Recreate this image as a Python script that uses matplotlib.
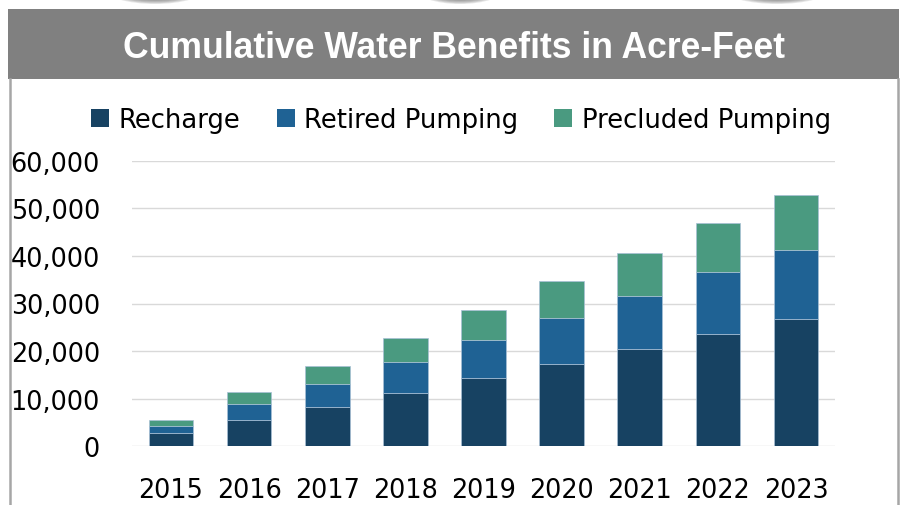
import matplotlib.pyplot as plt
import numpy as np
from matplotlib.patches import Ellipse, Patch, Rectangle
from matplotlib.ticker import FuncFormatter

years = ['2015', '2016', '2017', '2018', '2019', '2020', '2021', '2022', '2023']
# cumulative acre-feet
recharge = np.array([2730, 5590, 8320, 11200, 14290, 17230, 20380, 23530, 26680])
retired = np.array([1600, 3230, 4770, 6570, 8040, 9720, 11260, 13090, 14560])
precluded = np.array([1190, 2580, 3780, 4980, 6300, 7780, 8970, 10290, 11550])

title = 'Cumulative Water Benefits in Acre-Feet'
series_names = ['Recharge', 'Retired Pumping', 'Precluded Pumping']
colors = ['#174262', '#1f6294', '#4a9a80']

W, H = 903, 506
fig = plt.figure(figsize=(W / 100, H / 100), dpi=100)
fig.patch.set_facecolor('white')

# background layer in pixel coords (banner, frame, shadows at top)
bg = fig.add_axes([0, 0, 1, 1])
bg.set_xlim(0, W)
bg.set_ylim(H, 0)
bg.axis('off')
for cx, w in [(155, 100), (460, 88), (777, 106)]:
    for k in range(10):
        bg.add_patch(Ellipse((cx, -10), w * (1 - k * 0.05), 30 * (1 - k * 0.05),
                             color='#6e6e6e', alpha=0.16, lw=0))
bg.add_patch(Rectangle((8, 10), 891, 70, color='#808080', lw=0))
bg.plot([10, 10], [80, H], color='#a6a6a6', lw=1.8)
bg.plot([898, 898], [80, H], color='#a6a6a6', lw=1.8)
bg.text(454, 48, title, color='white', fontsize=25.6, fontweight='bold',
        family='Liberation Sans', ha='center', va='center')

ax = fig.add_axes([132 / W, 1 - 447.3 / H, (835 - 132) / W, (447.3 - 161.7) / H])
ax.patch.set_alpha(0)
x = np.arange(len(years))
bottom = np.zeros(len(years))
for vals, col in zip([recharge, retired, precluded], colors):
    ax.bar(x, vals, 0.57, bottom=bottom, color=col, edgecolor='#a9c0d6', linewidth=0.5, zorder=3)
    bottom += vals

ax.set_xlim(-0.5, len(years) - 0.5)
ax.set_ylim(0, 60000)
ax.set_yticks(np.arange(0, 60001, 10000))
ax.yaxis.set_major_formatter(FuncFormatter(lambda v, p: f'{int(v):,}'))
ax.set_xticks(x)
ax.set_xticklabels(years)
ax.grid(axis='y', color='#d9d9d9', lw=1.0, zorder=0)
for s in ax.spines.values():
    s.set_visible(False)
ax.tick_params(length=0, labelsize=18.4, colors='black')
ax.tick_params(axis='y', pad=23)
ax.tick_params(axis='x', pad=22)

handles = [Patch(facecolor=c, edgecolor='none') for c in colors]
fig.legend(handles, series_names, loc='center', bbox_to_anchor=(461 / W, 1 - 121 / H),
           ncol=3, frameon=False, fontsize=18.6, handlelength=0.7, handleheight=0.7,
           handletextpad=0.36, columnspacing=1.4, borderaxespad=0)

fig.savefig('out.png', dpi=100)
